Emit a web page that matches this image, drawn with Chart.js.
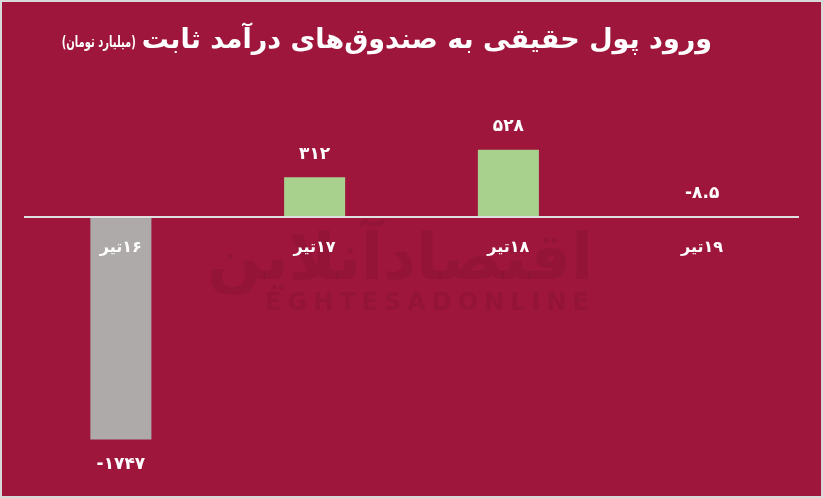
<!DOCTYPE html>
<html>
<head>
<meta charset="utf-8">
<script src="https://cdn.jsdelivr.net/npm/chart.js@4.4.0/dist/chart.umd.min.js"></script>
<style>
  html, body { margin: 0; padding: 0; background: #d9d9d9; }
  #wrap { width: 823px; height: 498px; position: relative; }
</style>
</head>
<body>
<div id="wrap"><canvas id="fundChart"></canvas></div>
<script>
// data
const categories = ["۱۶تیر", "۱۷تیر", "۱۸تیر", "۱۹تیر"];
const values = [-1747, 312, 528, -8.5];
const valueLabels = ["-۱۷۴۷", "۳۱۲", "۵۲۸", "-۸.۵"];
const titleMain = "ورود پول حقیقی به صندوق‌های درآمد ثابت";
const titleUnit = "(میلیارد تومان)";

const BG = "#9e163b";
const FONT = "'DejaVu Sans', 'Noto Sans', sans-serif";

// background, border, title, watermark
const decor = {
  id: "decor",
  beforeDraw(chart) {
    const ctx = chart.ctx;
    ctx.save();
    ctx.fillStyle = "#d9d9d9";
    ctx.fillRect(0, 0, chart.width, chart.height);
    ctx.fillStyle = BG;
    ctx.fillRect(2, 2, chart.width - 4, chart.height - 4);

    // watermark
    ctx.fillStyle = "rgba(0,0,0,0.065)";
    ctx.textAlign = "center";
    ctx.textBaseline = "middle";
    ctx.direction = "rtl";
    ctx.font = "bold 64px " + FONT;
    ctx.fillText("اقتصادآنلاین", 400, 262);
    ctx.direction = "ltr";
    ctx.font = "bold 24px " + FONT;
    ctx.letterSpacing = "6px";
    ctx.fillText("EGHTESADONLINE", 430, 304);
    ctx.letterSpacing = "0px";

    // title (big part, then the unit squeezed to the left of it)
    ctx.fillStyle = "#ffffff";
    ctx.direction = "rtl";
    ctx.textAlign = "right";
    ctx.font = "bold 27px " + FONT;
    const right = 712;
    ctx.fillText(titleMain, right, 41);
    const w = ctx.measureText(titleMain).width;
    ctx.font = "bold 16px " + FONT;
    const uw = ctx.measureText(titleUnit).width;
    const sx = 74 / uw;
    ctx.save();
    ctx.translate(right - w - 6, 43);
    ctx.scale(sx, 1);
    ctx.fillText(titleUnit, 0, 0);
    ctx.restore();
    ctx.restore();
  },
  afterDatasetsDraw(chart) {
    const ctx = chart.ctx;
    const y0 = chart.scales.y.getPixelForValue(0);
    const area = chart.chartArea;
    ctx.save();
    // zero line
    ctx.strokeStyle = "#e0e0e0";
    ctx.lineWidth = 2;
    ctx.beginPath();
    ctx.moveTo(area.left, y0);
    ctx.lineTo(area.right, y0);
    ctx.stroke();

    const meta = chart.getDatasetMeta(0);
    ctx.fillStyle = "#ffffff";
    ctx.textAlign = "center";
    ctx.textBaseline = "middle";
    meta.data.forEach((bar, i) => {
      // category labels
      ctx.direction = "rtl";
      ctx.font = "bold 16px " + FONT;
      ctx.fillText(categories[i], bar.x, y0 + 31);
      // value labels
      ctx.direction = "ltr";
      ctx.font = "bold 17px " + FONT;
      const v = values[i];
      const y = v < -50 ? bar.y + 25 : Math.min(bar.y, y0) - 23;
      ctx.fillText(valueLabels[i], bar.x, y);
    });
    ctx.restore();
  }
};

new Chart(document.getElementById("fundChart"), {
  type: "bar",
  data: {
    labels: categories,
    datasets: [{
      data: values,
      backgroundColor: values.map(v => v < 0 ? "#aeaaaa" : "#a9d18e"),
      borderWidth: 0,
      barPercentage: 0.315,
      categoryPercentage: 1
    }]
  },
  options: {
    responsive: true,
    maintainAspectRatio: false,
    animation: false,
    layout: { padding: { left: 24, right: 24, top: 80, bottom: 18 } },
    plugins: {
      legend: { display: false },
      tooltip: { enabled: false }
    },
    scales: {
      x: { display: false },
      y: { display: false, min: -2065, max: 1075 }
    }
  },
  plugins: [decor]
});
</script>
</body>
</html>
